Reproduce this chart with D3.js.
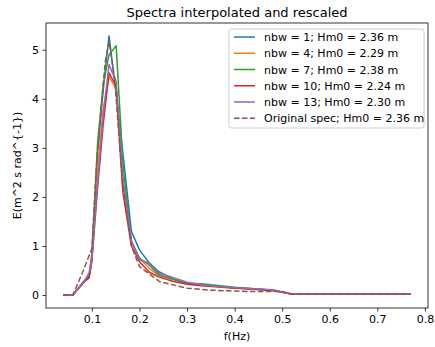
<!DOCTYPE html>
<html>
<head>
<meta charset="utf-8">
<script src="https://cdn.jsdelivr.net/npm/d3@7"></script>
<style>
  body { margin: 0; background: #fff; }
  svg text { font-family: "DejaVu Sans", sans-serif; }
</style>
</head>
<body>
<div id="chart"></div>
<script>
// frequency grid shared by the interpolated spectra (Hz)
const freqs = [0.04, 0.06, 0.085, 0.094, 0.1, 0.112, 0.124, 0.136, 0.151, 0.165, 0.183, 0.2, 0.22, 0.24, 0.27, 0.3, 0.33, 0.36, 0.4, 0.44, 0.48, 0.52, 0.56, 0.6, 0.65, 0.7, 0.77];

// interpolated and rescaled spectra
const nbw1  = [0, 0, 0.28, 0.36, 0.72, 2.9, 4.2, 5.28, 4.1, 2.9, 1.3, 0.92, 0.66, 0.48, 0.33, 0.24, 0.21, 0.18, 0.15, 0.13, 0.1, 0.02, 0.02, 0.02, 0.02, 0.02, 0.02];
const nbw4  = [0, 0, 0.3, 0.38, 0.8, 2.6, 3.8, 4.45, 4.2, 2.3, 1.1, 0.75, 0.55, 0.4, 0.32, 0.25, 0.21, 0.18, 0.15, 0.12, 0.1, 0.02, 0.02, 0.02, 0.02, 0.02, 0.02];
const nbw7  = [0, 0, 0.3, 0.38, 0.85, 3.1, 4.3, 4.9, 5.08, 2.7, 1.1, 0.75, 0.62, 0.42, 0.32, 0.24, 0.23, 0.2, 0.16, 0.13, 0.1, 0.02, 0.02, 0.02, 0.02, 0.02, 0.02];
const nbw10 = [0, 0, 0.28, 0.35, 0.7, 2.2, 3.5, 4.53, 4.25, 2.1, 1.0, 0.68, 0.47, 0.37, 0.28, 0.22, 0.19, 0.17, 0.14, 0.12, 0.09, 0.02, 0.02, 0.02, 0.02, 0.02, 0.02];
const nbw13 = [0, 0, 0.3, 0.45, 0.75, 2.3, 3.7, 4.7, 4.35, 2.4, 1.1, 0.72, 0.65, 0.45, 0.36, 0.26, 0.21, 0.18, 0.15, 0.13, 0.11, 0.02, 0.02, 0.02, 0.02, 0.02, 0.02];

// original spectrum, on its own grid
const origFreqs = [0.04, 0.06, 0.082, 0.1, 0.11, 0.12, 0.128, 0.136, 0.148, 0.165, 0.183, 0.2, 0.243, 0.3, 0.35, 0.4, 0.45, 0.5, 0.52, 0.6, 0.7, 0.77];
const origSpec  = [0, 0, 0.5, 0.95, 2.7, 3.9, 4.75, 5.17, 4.4, 2.2, 1.0, 0.58, 0.27, 0.14, 0.1, 0.08, 0.07, 0.07, 0.015, 0.015, 0.015, 0.015];

const labels = ["nbw = 1; Hm0 = 2.36 m", "nbw = 4; Hm0 = 2.29 m", "nbw = 7; Hm0 = 2.38 m",
                "nbw = 10; Hm0 = 2.24 m", "nbw = 13; Hm0 = 2.30 m", "Original spec; Hm0 = 2.36 m"];
const colors = ["#1f77b4", "#ff7f0e", "#2ca02c", "#d62728", "#9467bd", "#8c564b"];
const xTicks = [0.1, 0.2, 0.3, 0.4, 0.5, 0.6, 0.7, 0.8];
const yTicks = [0, 1, 2, 3, 4, 5];

// build series
const series = [nbw1, nbw4, nbw7, nbw10, nbw13].map((vals, i) => ({
    label: labels[i], color: colors[i], dashed: false,
    points: freqs.map((f, j) => ({ f: f, e: vals[j] }))
}));
series.push({
    label: labels[5], color: colors[5], dashed: true,
    points: origFreqs.map((f, j) => ({ f: f, e: origSpec[j] }))
});

// layout
const W = 435, H = 347;
const margin = { top: 23, right: 7, bottom: 39, left: 46 };
const width = W - margin.left - margin.right;
const height = H - margin.top - margin.bottom;

const svg = d3.select("#chart").append("svg")
    .attr("width", W).attr("height", H);
const g = svg.append("g").attr("transform", `translate(${margin.left},${margin.top})`);

// scales with matplotlib-like 5% margins
const allPts = series.flatMap(s => s.points);
const xExt = d3.extent(allPts, d => d.f);
const yExt = d3.extent(allPts, d => d.e);
const xPad = (xExt[1] - xExt[0]) * 0.05, yPad = (yExt[1] - yExt[0]) * 0.05;
const x = d3.scaleLinear().domain([xExt[0] - xPad, xExt[1] + xPad]).range([0, width]);
const y = d3.scaleLinear().domain([yExt[0] - yPad, yExt[1] + yPad]).range([height, 0]);

// lines
const line = d3.line().x(d => x(d.f)).y(d => y(d.e));
g.selectAll(".series").data(series).join("path")
    .attr("class", "series")
    .attr("fill", "none")
    .attr("stroke", d => d.color)
    .attr("stroke-width", 1.5)
    .attr("stroke-dasharray", d => d.dashed ? "5.55,2.4" : null)
    .attr("stroke-linejoin", "round")
    .attr("d", d => line(d.points));

// axes
const xAxis = g.append("g").attr("transform", `translate(0,${height})`)
    .call(d3.axisBottom(x).tickValues(xTicks).tickFormat(d3.format(".1f")).tickSizeInner(3.5).tickSizeOuter(0).tickPadding(3.5));
const yAxis = g.append("g")
    .call(d3.axisLeft(y).tickValues(yTicks).tickFormat(d3.format("d")).tickSizeInner(3.5).tickSizeOuter(0).tickPadding(3.5));
[xAxis, yAxis].forEach(a => {
    a.select(".domain").remove();
    a.selectAll("line").attr("stroke", "#000").attr("stroke-width", 0.8);
    a.selectAll("text").attr("font-size", 11).attr("fill", "#000")
        .style("font-family", "'DejaVu Sans', sans-serif");
});

// frame
g.append("rect").attr("width", width).attr("height", height)
    .attr("fill", "none").attr("stroke", "#000").attr("stroke-width", 0.8);

// title and axis labels
svg.append("text").attr("x", margin.left + width / 2).attr("y", 16.5)
    .attr("text-anchor", "middle").attr("font-size", 13).text("Spectra interpolated and rescaled");
svg.append("text").attr("x", margin.left + width / 2).attr("y", 340)
    .attr("text-anchor", "middle").attr("font-size", 11).text("f(Hz)");
svg.append("text")
    .attr("transform", `translate(21,${margin.top + height / 2}) rotate(-90)`)
    .attr("text-anchor", "middle").attr("font-size", 11).text("E(m^2 s rad^{-1})");

// legend
const legW = 195, legH = 99;
const leg = g.append("g").attr("transform", `translate(${width - legW - 4},6)`);
leg.append("rect").attr("width", legW).attr("height", legH).attr("rx", 2.5)
    .attr("fill", "#fff").attr("fill-opacity", 0.8)
    .attr("stroke", "#ccc").attr("stroke-width", 1);
const items = leg.selectAll(".item").data(series).join("g")
    .attr("class", "item")
    .attr("transform", (d, i) => `translate(0,${8 + i * 16.25})`);
items.append("line").attr("x1", 5).attr("x2", 26)
    .attr("stroke", d => d.color).attr("stroke-width", 1.5)
    .attr("stroke-dasharray", d => d.dashed ? "5.55,2.4" : null);
items.append("text").attr("x", 35).attr("y", 4).attr("font-size", 11).text(d => d.label);
</script>
</body>
</html>
